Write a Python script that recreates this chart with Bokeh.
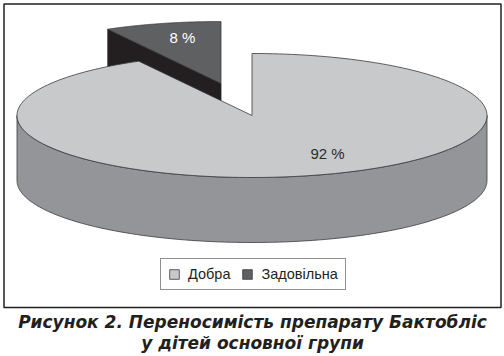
import numpy as np
from bokeh.plotting import figure
from bokeh.models import Legend, LegendItem
from bokeh.core.properties import value
from bokeh.embed import file_html
from bokeh.resources import INLINE

categories = ["Добра", "Задовільна"]
shares = [92, 8]
share_labels = ["92 %", "8 %"]
title_lines = ["Рисунок 2. Переносимість препарату Бактобліс", "у дітей основної групи"]

W, H = 504, 356
CX, CY, RX, RY, DEPTH = 251.5, 115.0, 235.0, 62.0, 65.0
EXPLODE = (-31.0, -32.0)
LIGHT, LIGHT_SIDE, DARK, DARK_SIDE, EDGE = "#c8c9cb", "#939598", "#5f6062", "#231f20", "#3a3a3c"

p = figure(width=W, height=H, x_range=(0, W), y_range=(H, 0), output_backend="svg",
           toolbar_location=None, min_border=0, outline_line_color=None,
           background_fill_color="white", border_fill_color="white")
p.axis.visible = False
p.grid.visible = False
p.styles = {"position": "absolute", "left": "0px", "top": "0px"}


def rim(a0, a1, cx=CX, cy=CY, n=200):
    """Points on the pie's elliptical rim; angles clockwise from 12 o'clock, degrees."""
    t = np.radians(np.linspace(a0, a1, n))
    return cx + RX * np.sin(t), cy - RY * np.cos(t)


# frame
p.quad(left=3.5, right=500.5, top=3.5, bottom=307, fill_color="white", line_color="#231f20", line_width=1.5)

a_big = 360 * shares[0] / sum(shares)

# exploded small slice: side wall, then top
sx, sy = CX + EXPLODE[0], CY + EXPLODE[1]
ex, ey = rim(a_big, 360, sx, sy)
p.patch([sx, ex[0], ex[0], sx], [sy, ey[0], ey[0] + DEPTH, sy + DEPTH],
        fill_color=DARK_SIDE, line_color=DARK_SIDE, line_width=0.8)
small_top = p.patch(np.r_[sx, ex, sx], np.r_[sy, ey, sy], fill_color=DARK, line_color=EDGE, line_width=0.8)

# big slice: front wall, then top
bx, by = rim(90, 270)
p.patch(np.r_[bx, bx[::-1]], np.r_[by, by[::-1] + DEPTH], fill_color=LIGHT_SIDE, line_color=EDGE, line_width=0.8)
tx, ty = rim(0, a_big)
big_top = p.patch(np.r_[CX, tx, CX], np.r_[CY, ty, CY], fill_color=LIGHT, line_color=EDGE, line_width=0.8)

# slice labels
p.text([327], [153], text=[share_labels[0]], text_color="#2b2b2d", text_align="center", text_baseline="middle",
       text_font=value("Liberation Sans"), text_font_size="15px")
p.text([182], [37], text=[share_labels[1]], text_color="white", text_align="center", text_baseline="middle",
       text_font=value("Liberation Sans"), text_font_size="15px")

# caption
for y, line in zip([321.5, 342.5], title_lines):
    p.text([252], [y], text=[line], text_color="#231f20", text_align="center", text_baseline="middle",
           text_font=value("DejaVu Sans"), text_font_style="bold italic", text_font_size="17px")

legend = Legend(
    items=[LegendItem(label=categories[0], renderers=[big_top]),
           LegendItem(label=categories[1], renderers=[small_top])],
    orientation="horizontal", location=(160, H - 290),
    border_line_color="#231f20", border_line_width=1, background_fill_color="white", background_fill_alpha=1,
    glyph_width=12, glyph_height=12, label_text_font="Liberation Sans", label_text_font_size="14.5px",
    label_text_color="#231f20", padding=7, margin=0, spacing=11, label_standoff=8,
)
p.add_layout(legend, "center")

open("out.html", "w").write(file_html(p, INLINE))
